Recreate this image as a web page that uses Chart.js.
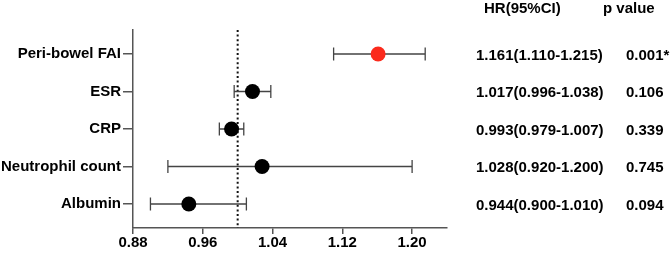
<!DOCTYPE html>
<html><head><meta charset="utf-8">
<script src="https://cdn.jsdelivr.net/npm/chart.js@4/dist/chart.umd.min.js"></script>
<style>html,body{margin:0;padding:0;background:#fff}#wrap{width:670px;height:255px;position:relative}</style>
</head><body><div id="wrap"><canvas id="c" width="670" height="255"></canvas></div>
<script>
const categories = ["Peri-bowel FAI", "ESR", "CRP", "Neutrophil count", "Albumin"];
const hr = [1.161, 1.017, 0.993, 1.028, 0.944];
const ciLow = [1.110, 0.996, 0.979, 0.920, 0.900];
const ciHigh = [1.215, 1.038, 1.007, 1.200, 1.010];
const pValues = ["0.001*", "0.106", "0.339", "0.745", "0.094"];
const xTicks = [0.88, 0.96, 1.04, 1.12, 1.20];
const xTickLabels = ["0.88", "0.96", "1.04", "1.12", "1.20"];
const refLine = 1.0;
const headers = ["HR(95%CI)", "p value"];
const hrLabels = hr.map((v, i) => `${v.toFixed(3)}(${ciLow[i].toFixed(3)}-${ciHigh[i].toFixed(3)})`);

const FONT = '"Liberation Sans", Arial, sans-serif';
const pointColors = hr.map((v, i) => i === 0 ? '#fb2a1c' : '#000000');

const forestPlugin = {
  id: 'forest',
  beforeDatasetsDraw(chart) {
    const ctx = chart.ctx, xs = chart.scales.x, ys = chart.scales.y, ca = chart.chartArea;
    ctx.save();
    // reference dotted line
    const rx = xs.getPixelForValue(refLine);
    ctx.strokeStyle = '#111';
    ctx.lineWidth = 2;
    ctx.setLineDash([2, 2.6]);
    ctx.beginPath();
    ctx.moveTo(rx, ca.top);
    ctx.lineTo(rx, ca.bottom);
    ctx.stroke();
    ctx.setLineDash([]);
    // error bars
    ctx.strokeStyle = '#444';
    ctx.lineWidth = 1.3;
    for (let i = 0; i < hr.length; i++) {
      const y = ys.getPixelForValue(i);
      const x1 = xs.getPixelForValue(ciLow[i]);
      const x2 = xs.getPixelForValue(ciHigh[i]);
      ctx.beginPath();
      ctx.moveTo(x1, y); ctx.lineTo(x2, y);
      ctx.moveTo(x1, y - 6.5); ctx.lineTo(x1, y + 6.5);
      ctx.moveTo(x2, y - 6.5); ctx.lineTo(x2, y + 6.5);
      ctx.stroke();
    }
    ctx.restore();
  },
  afterDraw(chart) {
    const ctx = chart.ctx, ys = chart.scales.y;
    ctx.save();
    ctx.fillStyle = '#000';
    ctx.font = 'bold 15px ' + FONT;
    ctx.textBaseline = 'middle';
    ctx.textAlign = 'left';
    ctx.fillText(headers[0], 484, 9);
    ctx.fillText(headers[1], 603, 9);
    for (let i = 0; i < hr.length; i++) {
      const y = ys.getPixelForValue(i) + 1.5;
      ctx.fillText(hrLabels[i], 476, y);
      ctx.fillText(pValues[i], 626, y);
    }
    ctx.restore();
  }
};

new Chart(document.getElementById('c'), {
  type: 'scatter',
  data: {
    datasets: [{
      data: hr.map((v, i) => ({ x: v, y: i })),
      pointRadius: 7.5,
      pointHoverRadius: 7.5,
      pointBackgroundColor: pointColors,
      pointBorderColor: pointColors,
      pointBorderWidth: 0
    }]
  },
  options: {
    responsive: false,
    devicePixelRatio: 1,
    animation: false,
    layout: { padding: { left: 0, right: 223, top: 30, bottom: 0 } },
    plugins: { legend: { display: false }, tooltip: { enabled: false } },
    scales: {
      x: {
        type: 'linear',
        min: 0.88, max: 1.24,
        afterBuildTicks(scale) { scale.ticks = xTicks.map(v => ({ value: v })); },
        afterFit(scale) { scale.height = 27; },
        border: { display: true, color: '#555', width: 1.5 },
        grid: { display: true, drawOnChartArea: false, drawTicks: true, tickLength: 6, color: '#555', lineWidth: 1.5 },
        ticks: {
          padding: 0,
          color: '#000',
          font: { family: FONT, size: 15, weight: 'bold' },
          maxRotation: 0,
          callback: (v) => { const k = xTicks.indexOf(v); return k >= 0 ? xTickLabels[k] : ''; }
        }
      },
      y: {
        type: 'linear',
        reverse: true,
        min: -0.64, max: 4.64,
        afterBuildTicks(scale) { scale.ticks = categories.map((c, i) => ({ value: i })); },
        afterFit(scale) { scale.width = 133; },
        border: { display: true, color: '#555', width: 1.5 },
        grid: { display: true, drawOnChartArea: false, drawTicks: true, tickLength: 10, color: '#555', lineWidth: 1.5 },
        ticks: {
          padding: 2,
          color: '#000',
          font: { family: FONT, size: 15, weight: 'bold' },
          callback: (v) => categories[v] ?? ''
        }
      }
    }
  },
  plugins: [forestPlugin]
});
</script></body></html>
